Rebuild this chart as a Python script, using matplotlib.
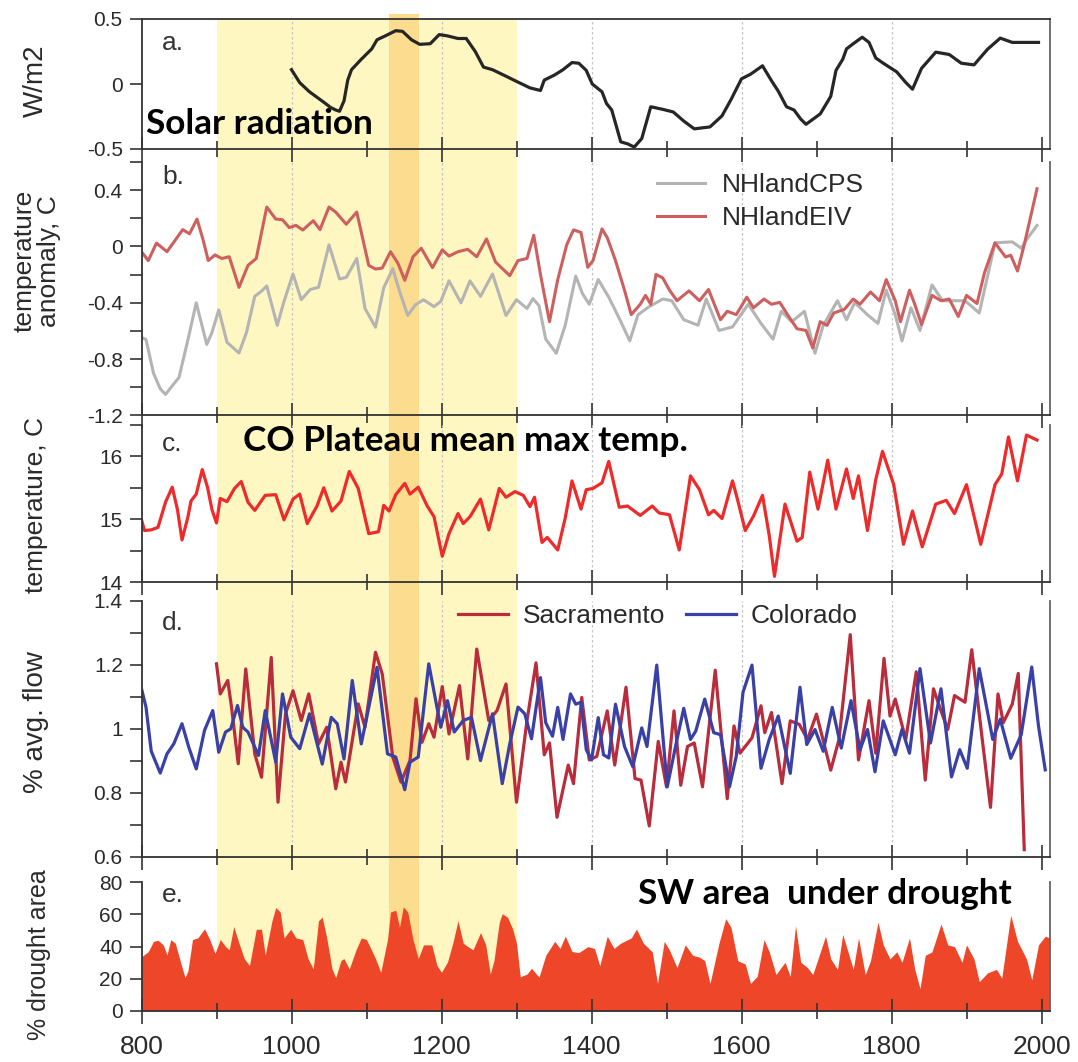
import numpy as np
import matplotlib
matplotlib.use("Agg")
import matplotlib.pyplot as plt
from matplotlib.ticker import FixedLocator, MultipleLocator, FuncFormatter

plt.rcParams['font.family'] = ['Liberation Sans', 'DejaVu Sans']

# ---- data (year, value) ----
solar = [(1000,0.11),(1011,0.01),(1024,-0.06),(1043,-0.14),(1052,-0.18),(1059,-0.20),(1064,-0.21),
         (1070,-0.13),(1075,0.03),(1080,0.11),(1093,0.19),(1107,0.27),(1114,0.34),(1125,0.37),
         (1139,0.41),(1148,0.405),(1160,0.34),(1171,0.305),(1185,0.31),(1197,0.38),(1208,0.37),
         (1222,0.35),(1233,0.35),(1245,0.25),(1256,0.13),(1268,0.11),(1286,0.06),(1300,0.02),
         (1318,-0.03),(1332,-0.05),(1337,0.03),(1351,0.07),(1362,0.11),(1374,0.165),(1383,0.16),
         (1393,0.105),(1401,0.0),(1414,-0.06),(1420,-0.15),(1427,-0.20),(1439,-0.445),(1448,-0.46),
         (1457,-0.485),(1467,-0.42),(1479,-0.175),(1495,-0.195),(1509,-0.215),(1523,-0.285),
         (1537,-0.345),(1558,-0.33),(1574,-0.245),(1586,-0.12),(1600,0.04),(1612,0.075),(1628,0.14),
         (1640,0.025),(1649,-0.055),(1660,-0.175),(1670,-0.20),(1679,-0.27),(1686,-0.31),(1705,-0.23),
         (1719,-0.095),(1726,0.105),(1735,0.19),(1740,0.27),(1749,0.31),(1761,0.36),(1770,0.32),
         (1779,0.20),(1789,0.16),(1807,0.093),(1819,0.012),(1828,-0.04),(1840,0.12),(1859,0.245),
         (1877,0.227),(1893,0.16),(1910,0.147),(1928,0.267),(1945,0.353),(1961,0.32),(1996,0.32)]

nh_eiv = [(800,-0.037),(809,-0.10),(820,0.024),(834,-0.037),(855,0.12),(864,0.09),(874,0.195),(882,0.05),
          (889,-0.10),(898,-0.06),(907,-0.085),(917,-0.073),(930,-0.29),(942,-0.134),(953,-0.085),
          (967,0.28),(979,0.195),(988,0.19),(997,0.134),(1006,0.15),(1015,0.117),(1029,0.183),
          (1038,0.12),(1050,0.28),(1059,0.244),(1073,0.158),(1087,0.244),(1103,-0.134),(1112,-0.16),
          (1121,-0.153),(1132,-0.037),(1142,-0.12),(1151,-0.24),(1162,-0.073),(1173,-0.012),
          (1188,-0.15),(1201,-0.024),(1210,-0.068),(1222,-0.037),(1235,-0.02),(1247,-0.073),
          (1260,0.054),(1272,-0.11),(1291,-0.207),(1302,-0.10),(1314,-0.085),(1323,0.08),
          (1332,-0.20),(1344,-0.534),(1355,-0.235),(1367,0.013),(1376,0.118),(1386,0.10),
          (1395,-0.148),(1402,-0.10),(1414,0.125),(1421,0.063),(1432,-0.10),(1444,-0.31),
          (1453,-0.484),(1465,-0.41),(1472,-0.347),(1479,-0.41),(1486,-0.198),(1495,-0.223),
          (1504,-0.31),(1514,-0.385),(1530,-0.315),(1544,-0.385),(1556,-0.305),(1572,-0.52),
          (1581,-0.46),(1593,-0.484),(1607,-0.36),(1616,-0.435),(1630,-0.373),(1640,-0.41),
          (1651,-0.397),(1663,-0.497),(1674,-0.584),(1686,-0.596),(1695,-0.72),(1705,-0.534),
          (1714,-0.56),(1723,-0.472),(1737,-0.447),(1749,-0.373),(1758,-0.41),(1772,-0.323),
          (1784,-0.385),(1793,-0.235),(1805,-0.385),(1812,-0.534),(1824,-0.31),(1831,-0.41),
          (1840,-0.554),(1854,-0.347),(1866,-0.385),(1877,-0.373),(1889,-0.497),(1900,-0.347),
          (1914,-0.405),(1924,-0.186),(1938,0.026),(1952,-0.074),(1959,-0.062),(1968,-0.174),
          (1977,0.013),(1994,0.41)]

nh_cps = [(800,-0.646),(806,-0.66),(816,-0.90),(825,-1.01),(832,-1.05),(843,-0.976),(850,-0.93),
          (862,-0.66),(873,-0.40),(887,-0.695),(894,-0.61),(903,-0.45),(914,-0.68),(930,-0.756),
          (940,-0.61),(951,-0.354),(960,-0.317),(967,-0.28),(981,-0.56),(990,-0.39),(1002,-0.195),
          (1013,-0.378),(1025,-0.305),(1036,-0.29),(1050,0.012),(1064,-0.23),(1073,-0.22),
          (1087,-0.085),(1098,-0.44),(1112,-0.573),(1123,-0.293),(1135,-0.158),(1144,-0.317),
          (1155,-0.49),(1165,-0.415),(1176,-0.378),(1190,-0.427),(1199,-0.39),(1210,-0.244),
          (1226,-0.40),(1238,-0.244),(1252,-0.354),(1268,-0.195),(1286,-0.49),(1300,-0.378),
          (1314,-0.44),(1322,-0.37),(1330,-0.42),(1339,-0.658),(1353,-0.758),(1365,-0.559),
          (1379,-0.21),(1388,-0.335),(1397,-0.41),(1409,-0.235),(1423,-0.36),(1437,-0.51),
          (1451,-0.67),(1462,-0.485),(1476,-0.43),(1495,-0.373),(1507,-0.385),(1523,-0.52),
          (1542,-0.559),(1553,-0.373),(1570,-0.596),(1588,-0.571),(1609,-0.41),(1626,-0.546),
          (1642,-0.658),(1653,-0.46),(1667,-0.534),(1684,-0.46),(1698,-0.758),(1709,-0.559),
          (1728,-0.385),(1740,-0.52),(1751,-0.398),(1768,-0.485),(1782,-0.546),(1793,-0.31),
          (1805,-0.485),(1814,-0.67),(1826,-0.435),(1838,-0.596),(1854,-0.273),(1868,-0.385),
          (1882,-0.385),(1898,-0.385),(1917,-0.472),(1926,-0.26),(1938,0.026),(1961,0.033),
          (1973,-0.012),(1982,0.063),(1994,0.15)]

co_tmax = [(800,14.99),(804,14.82),(813,14.83),(822,14.87),(832,15.27),(841,15.51),(848,15.15),(854,14.67),
           (862,15.04),(866,15.29),(873,15.40),(881,15.79),(888,15.51),(894,15.15),(900,14.94),
           (905,15.33),(914,15.28),(924,15.49),(933,15.60),(942,15.27),(951,15.14),(965,15.38),
           (979,15.39),(990,14.99),(1002,15.32),(1011,15.40),(1021,14.93),(1034,15.21),(1043,15.50),
           (1054,15.13),(1066,15.29),(1077,15.76),(1089,15.49),(1103,14.77),(1116,14.80),(1123,15.22),
           (1130,15.13),(1139,15.39),(1151,15.57),(1158,15.40),(1169,15.51),(1181,15.21),(1190,15.04),
           (1201,14.41),(1210,14.77),(1222,15.09),(1229,14.93),(1238,15.04),(1252,15.32),(1263,14.83),
           (1277,15.49),(1286,15.35),(1298,15.44),(1309,15.38),(1318,15.20),(1324,15.35),(1334,14.63),
           (1341,14.71),(1355,14.51),(1365,15.02),(1374,15.61),(1386,15.16),(1393,15.47),(1402,15.49),
           (1414,15.58),(1423,15.92),(1437,15.19),(1448,15.21),(1465,15.06),(1481,15.21),(1490,15.10),
           (1504,15.07),(1517,14.51),(1532,15.69),(1544,15.47),(1556,15.07),(1563,15.14),(1574,15.01),
           (1588,15.61),(1595,15.30),(1605,14.82),(1616,15.05),(1628,15.38),(1637,14.74),(1644,14.09),
           (1658,15.24),(1674,14.65),(1681,14.71),(1691,15.75),(1702,15.16),(1715,15.94),(1726,15.16),
           (1740,15.80),(1749,15.33),(1756,15.69),(1768,14.82),(1779,15.63),(1788,16.08),(1803,15.55),
           (1816,14.60),(1828,15.13),(1841,14.56),(1859,15.24),(1873,15.30),(1884,15.09),(1900,15.55),
           (1919,14.60),(1938,15.55),(1947,15.72),(1956,16.31),(1968,15.61),(1980,16.34),(1994,16.26)]

colorado = [(800,1.125),(806,1.068),(813,0.93),(825,0.862),(834,0.922),(843,0.953),(854,1.016),(863,0.943),
            (873,0.875),(884,0.995),(895,1.057),(903,0.927),(912,0.99),(919,1.0),(928,1.073),(935,1.005),
            (942,0.99),(956,0.917),(965,1.057),(979,0.896),(988,1.109),(999,0.974),(1011,0.938),
            (1024,1.047),(1041,0.89),(1053,1.036),(1061,1.016),(1070,0.906),(1081,1.151),(1093,0.953),
            (1114,1.192),(1128,0.922),(1139,0.912),(1151,0.81),(1158,0.896),(1169,0.912),(1183,1.203),
            (1199,1.005),(1208,1.088),(1217,0.99),(1229,1.026),(1240,1.036),(1252,0.901),(1268,1.047),
            (1281,0.829),(1291,0.953),(1302,1.068),(1311,1.047),(1320,0.969),(1332,1.16),(1339,1.019),
            (1348,0.977),(1355,1.067),(1362,0.967),(1372,1.109),(1379,1.077),(1386,1.083),(1393,0.935),
            (1400,0.903),(1409,1.035),(1416,0.919),(1423,0.909),(1432,1.077),(1444,0.945),(1455,0.882),
            (1467,1.003),(1474,0.945),(1487,1.199),(1501,0.819),(1514,0.967),(1523,1.064),(1532,0.967),
            (1539,0.993),(1551,1.093),(1563,0.988),(1572,0.982),(1584,0.819),(1593,0.914),(1602,1.114),
            (1614,1.199),(1626,0.877),(1637,0.967),(1649,1.04),(1665,0.861),(1678,1.13),(1687,0.951),
            (1698,0.998),(1709,0.93),(1721,1.067),(1733,0.94),(1746,1.088),(1758,0.935),(1768,0.998),
            (1778,0.866),(1789,1.025),(1805,0.919),(1814,0.998),(1824,0.924),(1838,1.188),(1852,0.956),
            (1866,1.125),(1880,0.85),(1891,0.935),(1901,0.877),(1917,1.188),(1935,0.967),(1945,1.03),
            (1959,0.908),(1973,0.982),(1987,1.193),(1996,1.009),(2005,0.872)]

sacramento = [(900,1.203),(905,1.109),(915,1.151),(920,1.068),(929,0.891),(939,1.187),(951,0.922),(960,0.849),
              (973,1.223),(982,0.771),(992,1.047),(1002,1.119),(1013,1.026),(1023,1.109),(1036,0.953),
              (1047,1.005),(1059,0.813),(1066,0.896),(1072,0.834),(1089,1.078),(1098,1.005),(1112,1.239),
              (1121,1.171),(1135,0.912),(1146,0.834),(1158,0.901),(1166,1.094),(1174,0.958),(1183,1.016),
              (1190,0.974),(1201,1.132),(1210,0.984),(1224,1.135),(1235,0.906),(1247,1.249),(1263,1.026),
              (1274,1.057),(1286,1.14),(1300,0.771),(1314,1.026),(1326,1.206),(1337,0.919),(1344,0.956),
              (1354,0.724),(1369,0.887),(1376,0.829),(1387,1.098),(1397,0.903),(1407,0.914),(1421,1.056),
              (1431,0.887),(1446,1.13),(1458,0.845),(1466,0.84),(1477,0.697),(1489,0.961),(1500,0.819),
              (1510,1.056),(1519,0.824),(1528,0.945),(1537,0.956),(1548,0.819),(1565,1.183),(1581,0.782),
              (1590,1.009),(1598,0.924),(1614,0.972),(1626,1.072),(1631,0.988),(1640,1.051),(1654,0.829),
              (1665,1.025),(1677,1.014),(1688,0.967),(1700,1.046),(1719,0.871),(1730,0.967),(1745,1.294),
              (1756,0.903),(1770,1.088),(1779,0.924),(1790,1.22),(1798,1.04),(1805,1.093),(1819,0.967),
              (1833,1.178),(1845,0.84),(1856,1.125),(1866,1.056),(1875,0.998),(1884,1.104),(1898,1.083),
              (1907,1.247),(1921,0.967),(1932,0.755),(1942,1.109),(1949,1.019),(1961,1.077),(1969,1.173),
              (1977,0.623)]

drought = [(800,33.6),(809,36.8),(816,43.2),(822,43.9),(829,41),(834,34.7),(839,44.3),(845,42),(852,30.4),
           (858,20.7),(862,25),(868,44.3),(875,45.3),(884,51),(891,44.3),(898,35.7),(905,44.3),(912,40),
           (917,37.9),(923,52.4),(930,42),(937,32.5),(944,28.2),(953,50.7),(960,50.7),(965,34.7),(974,56),
           (979,64.2),(985,61.4),(990,45.3),(999,50.7),(1006,45.3),(1015,44.3),(1022,32.5),(1029,26.1),
           (1036,56),(1041,58.2),(1047,45.3),(1054,26.1),(1059,20.7),(1066,31.4),(1070,32.5),(1077,26.1),
           (1086,37.9),(1093,45.3),(1100,44.3),(1112,32.5),(1119,24),(1128,44.3),(1132,61.4),(1139,62.5),
           (1144,51.8),(1149,64.6),(1155,61.4),(1162,44.3),(1169,32.5),(1176,41),(1187,41),(1194,28.2),
           (1200,24),(1208,30.4),(1215,42),(1222,56),(1229,42),(1235,40),(1242,37.9),(1252,48.6),(1259,41),
           (1265,22.9),(1270,31.4),(1277,55),(1281,60.3),(1288,58.2),(1295,50.7),(1300,42),(1305,21.2),
           (1314,22.9),(1320,26.5),(1330,21),(1339,34.5),(1351,43.2),(1358,38.8),(1365,46.4),(1374,36.9),
           (1383,36.2),(1395,39.9),(1404,38.8),(1411,28),(1421,46.4),(1430,38.8),(1439,42.1),(1453,45.3),
           (1460,50.8),(1469,42.1),(1481,36.7),(1488,17.1),(1497,43.2),(1504,37.7),(1514,26.9),(1525,41),
           (1535,34.5),(1544,33.4),(1551,31.2),(1558,17.1),(1570,42.1),(1579,57.3),(1586,51.8),(1595,31.2),
           (1605,29.1),(1612,17.1),(1621,21.5),(1630,44.3),(1637,36.7),(1646,22.6),(1658,30.2),(1665,21.5),
           (1672,52.9),(1679,30.2),(1688,26.9),(1695,22.6),(1702,32.3),(1712,46.4),(1719,32.3),(1728,25.8),
           (1735,47.5),(1742,36.7),(1749,25.8),(1756,45.3),(1765,22.6),(1772,31.2),(1782,55.1),(1789,41),
           (1798,32.3),(1807,36.7),(1814,30.2),(1824,45.3),(1831,25.8),(1838,13.9),(1845,34.5),(1854,36.7),
           (1866,54),(1875,41),(1884,39.9),(1894,30.2),(1900,41),(1910,32.3),(1917,18.2),(1928,23.6),
           (1940,25.8),(1947,20.4),(1959,59.4),(1968,43.2),(1980,32.3),(1987,19.3),(1996,41),(2005,46.4),
           (2011,45.3)]

warm_period = (900, 1300)
peak_period = (1130, 1170)
grid_years = [1000, 1200, 1400, 1600, 1800]

def xy(pairs):
    a = np.array(pairs, dtype=float)
    return a[:, 0], a[:, 1]

# ---- layout (figure pixels -> fractions) ----
W, H = 1078, 1062
fig = plt.figure(figsize=(W / 100, H / 100), dpi=100)
L, R = 141.5, 1049.8
XMAX = 800 + (R - L) / 0.75

def add_panel(top, bottom):
    ax = fig.add_axes([L / W, 1 - bottom / H, (R - L) / W, (bottom - top) / H])
    ax.set_facecolor('none')
    ax.set_zorder(2)
    return ax

# background axes holding the shaded periods across all panels
bg = fig.add_axes([L / W, 1 - 1011 / H, (R - L) / W, (1011 - 14) / H])
bg.set_zorder(0)
bg.set_xlim(800, XMAX)
bg.set_ylim(0, 1)
bg.axis('off')
bg.axvspan(*warm_period, ymin=0, ymax=(1011 - 19) / (1011 - 14), color='#fff7c2', lw=0)
bg.axvspan(*peak_period, ymin=0, ymax=1, color='#fcdc8e', lw=0)

ax_a = add_panel(19, 149)
ax_b = add_panel(162, 415.5)
ax_c = add_panel(425, 582)
ax_d = add_panel(600.7, 857)
ax_e = add_panel(882, 1011)
axes = [ax_a, ax_b, ax_c, ax_d, ax_e]

fmt = FuncFormatter(lambda v, p: '%g' % round(v, 3))
dark = '#2a2a2a'
for ax in axes:
    ax.set_xlim(800, XMAX)
    ax.xaxis.set_major_locator(MultipleLocator(200))
    ax.xaxis.set_minor_locator(MultipleLocator(100))
    ax.tick_params(axis='x', which='major', direction='inout', length=18, width=1.2, color='#333333',
                   labelsize=19, pad=6, labelcolor=dark)
    ax.tick_params(axis='x', which='minor', direction='inout', length=12, width=1.2, color='#333333')
    ax.tick_params(axis='y', which='both', direction='out', length=8.5, width=1.2, color='#333333',
                   labelsize=15, pad=5, labelcolor=dark)
    ax.yaxis.set_major_formatter(fmt)
    for s in ['left', 'bottom', 'right']:
        ax.spines[s].set_color('#333333')
        ax.spines[s].set_linewidth(1.3)
    ax.spines['right'].set_color('#666666')
    ax.spines['top'].set_visible(False)
    if ax is not ax_e:
        ax.tick_params(axis='x', labelbottom=False)
        for g in grid_years:
            ax.axvline(g, color='#c4c4c4', lw=0.9, ls=(0, (2, 2)), zorder=0)

ax_a.spines['top'].set_visible(True)
ax_a.spines['top'].set_color('#333333')
ax_a.spines['top'].set_linewidth(1.3)

def ylabel(ax, text, size, xc, yc, **kw):
    ax.set_ylabel(text, fontsize=size, color=dark, **kw)
    ax.yaxis.label.set_verticalalignment('center')
    ax.yaxis.set_label_coords((xc - L) / (R - L), yc)

# a. solar
x, y = xy(solar)
ax_a.plot(x, y, color='#262626', lw=2.3, solid_joinstyle='round')
ax_a.set_ylim(-0.5, 0.5)
ax_a.yaxis.set_major_locator(FixedLocator([-0.5, 0, 0.5]))
ylabel(ax_a, 'W/m2', 20, 36, 0.523)

# b. NH temperature
x, y = xy(nh_cps)
ax_b.plot(x, y, color='#b4b4b4', lw=2.2, label='NHlandCPS', solid_joinstyle='round')
x, y = xy(nh_eiv)
ax_b.plot(x, y, color='#cd5f5f', lw=2.2, label='NHlandEIV', solid_joinstyle='round')
ax_b.set_ylim(-1.2, 0.6)
ax_b.yaxis.set_major_locator(FixedLocator([-1.2, -0.8, -0.4, 0, 0.4]))
ax_b.yaxis.set_minor_locator(FixedLocator([-1.0, -0.6, -0.2, 0.2, 0.6]))
ylabel(ax_b, 'temperature\nanomaly, C', 19, 37, 0.61, linespacing=1.0)
ax_b.legend(loc='center left', bbox_to_anchor=(0.568, 0.843), frameon=False, fontsize=19,
            handlelength=1.8, handletextpad=0.65, labelspacing=0.35, borderpad=0, borderaxespad=0,
            labelcolor=dark)

# c. CO Plateau max temp
x, y = xy(co_tmax)
ax_c.plot(x, y, color='#ee2b2b', lw=2.3, solid_joinstyle='round')
ax_c.set_ylim(14, 16.5)
ax_c.yaxis.set_major_locator(FixedLocator([14, 15, 16]))
ax_c.yaxis.set_minor_locator(FixedLocator([14.5, 15.5, 16.5]))
ylabel(ax_c, 'temperature, C', 19, 36, 0.49)

# d. river flow
x, y = xy(sacramento)
ax_d.plot(x, y, color='#b82c3c', lw=2.3, label='Sacramento', solid_joinstyle='round')
x, y = xy(colorado)
ax_d.plot(x, y, color='#3940a6', lw=2.3, label='Colorado', solid_joinstyle='round')
ax_d.set_ylim(0.6, 1.4)
ax_d.yaxis.set_major_locator(FixedLocator([0.6, 0.8, 1.0, 1.2, 1.4]))
ax_d.yaxis.set_minor_locator(FixedLocator([0.7, 0.9, 1.1, 1.3]))
ylabel(ax_d, '% avg. flow', 20, 36, 0.527)
ax_d.legend(loc='center left', bbox_to_anchor=(0.3485, 0.94), frameon=False, fontsize=19, ncol=2,
            handlelength=1.9, handletextpad=0.55, columnspacing=0.8, borderpad=0, borderaxespad=0,
            labelcolor=dark)

# e. drought area
x, y = xy(drought)
ax_e.fill_between(x, y, 0, color='#ee4628', lw=0)
ax_e.set_ylim(0, 80)
ax_e.yaxis.set_major_locator(FixedLocator([0, 20, 40, 60, 80]))
ylabel(ax_e, '% drought area', 18, 38.6, 0.434)
ax_e.tick_params(axis='x', which='major', pad=8)

# panel letters
for ax, lab, yy in zip(axes, ['a.', 'b.', 'c.', 'd.', 'e.'], [0.815, 0.941, 0.879, 0.913, 0.899]):
    ax.text(0.0226, yy, lab, transform=ax.transAxes, fontsize=19, color='#333333', va='center', ha='left')

# bold annotations
bold = dict(family=['Lato', 'DejaVu Sans'], weight='bold', color='black', va='center', ha='left')
ax_a.text(0.005, 0.19, 'Solar radiation', transform=ax_a.transAxes, fontsize=25.3, **bold)
ax_c.text(0.1117, 0.898, 'CO Plateau mean max temp.', transform=ax_c.transAxes, fontsize=25.3, **bold)
ax_e.text(0.5465, 0.907, 'SW area  under drought', transform=ax_e.transAxes, fontsize=25.3, **bold)

fig.savefig('out.png', dpi=100)
